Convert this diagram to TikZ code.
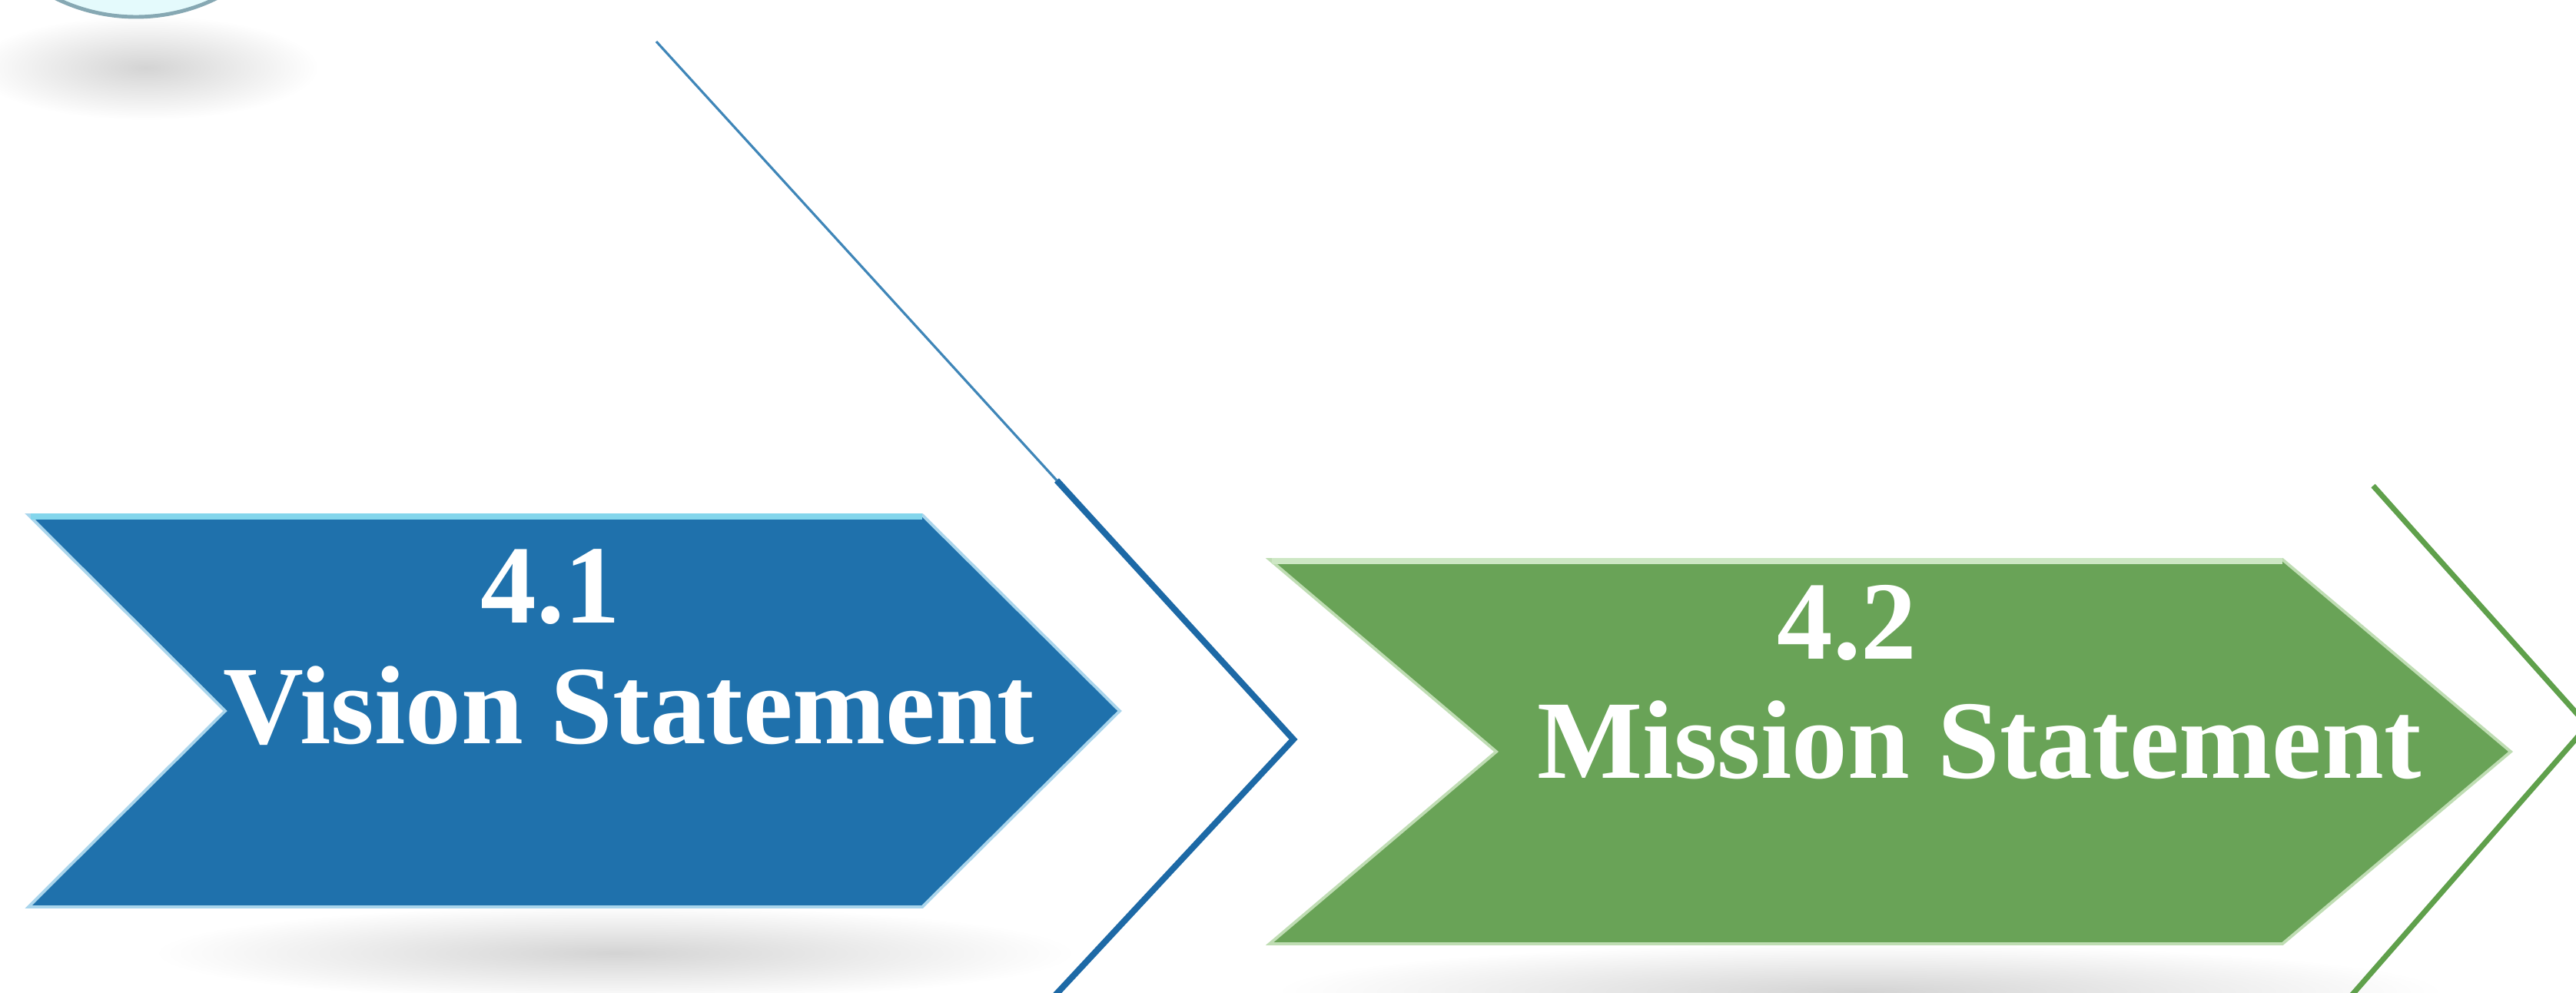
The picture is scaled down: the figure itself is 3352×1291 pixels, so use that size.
\documentclass[tikz,border=0pt]{standalone}
\usepackage{fontspec}
\setmainfont{Liberation Serif}
\usetikzlibrary{positioning}
\definecolor{visionblue}{HTML}{1F71AC}
\definecolor{visionedge}{HTML}{A9D5EC}
\definecolor{visiontop}{HTML}{84D6EC}
\definecolor{visionline}{HTML}{1D69A6}
\definecolor{visionthin}{HTML}{3F86B8}
\definecolor{missiongreen}{HTML}{69A357}
\definecolor{missionedge}{HTML}{BFDDB3}
\definecolor{missiontop}{HTML}{CDE7C4}
\definecolor{missionline}{HTML}{5FA04B}
\definecolor{ringfill}{HTML}{E4FAFC}
\definecolor{ringline}{HTML}{86A8B3}

\begin{document}
\begin{tikzpicture}[x=0.01cm,y=-0.01cm,
  every node/.style={font=\fontsize{41.3}{44.7}\selectfont\bfseries,text=white,inner sep=0pt,anchor=base west},
  shadowblur/.style={inner color=black!17,outer color=white}]
\useasboundingbox (0,0) rectangle (3352,1291);
\clip (0,0) rectangle (3352,1291);
% soft shadows
\shade[shadowblur] (190,88) ellipse (225 and 68);
\shade[shadowblur] (800,1240) ellipse (600 and 62);
\shade[shadowblur] (2420,1290) ellipse (760 and 62);
% ring cut by the top edge
\filldraw[fill=ringfill,draw=ringline,line width=1.4pt] (177,-216) circle (238);
% chevrons
\filldraw[fill=visionblue,draw=visionedge,line width=1.1pt] (37,670) -- (1200,670) -- (1457,925) -- (1200,1180) -- (37,1180) -- (293,925) -- cycle;
\draw[visiontop,line width=2.2pt] (40,672) -- (1200,672);
\filldraw[fill=missiongreen,draw=missionedge,line width=1.1pt] (1652,728) -- (2970,728) -- (3267,978) -- (2970,1228) -- (1652,1228) -- (1947,978) -- cycle;
\draw[missiontop,line width=2.2pt] (1655,730) -- (2970,730);
% outline marks
\coordinate (vtop) at (854,54);
\coordinate (vmid) at (1375,625);
\coordinate (vtip) at (1683,962);
\coordinate (vend) at (1373,1295);
\coordinate (mtop) at (3088,632);
\coordinate (mtip) at (3367,944);
\coordinate (mend) at (3060,1295);
\draw[visionthin,line width=0.9pt] (vtop) -- (vmid);
\draw[visionline,line width=2.3pt] (vmid) -- (vtip) -- (vend);
\draw[missionline,line width=2pt] (mtop) -- (mtip) -- (mend);
% labels
\node (vnum) at (625,810) {4.1};
\node (vtitle) at (290,967) {Vision Statement};
\node (mnum) at (2312,857) {4.2};
\node (mtitle) at (2000,1012) {Mission Statement};
\end{tikzpicture}
\end{document}
